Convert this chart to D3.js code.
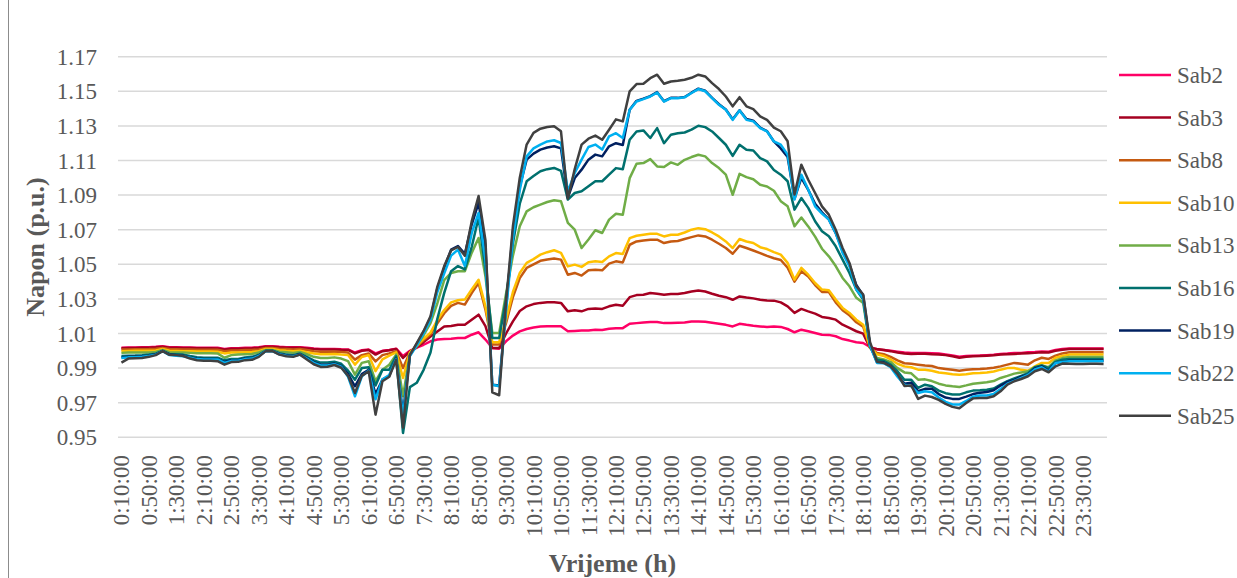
<!DOCTYPE html>
<html>
<head>
<meta charset="utf-8">
<script src="https://cdn.jsdelivr.net/npm/d3@7"></script>
<style>
  body { margin: 0; background: #fff; }
  text { font-family: "Liberation Serif", "Times New Roman", serif; fill: #595959; }
</style>
</head>
<body>
<svg id="chart" width="1237" height="578"></svg>
<script>
// time of day, every 10 minutes (category axis)
var times = [
  "0:10:00","0:20:00","0:30:00","0:40:00","0:50:00","1:00:00",
  "1:10:00","1:20:00","1:30:00","1:40:00","1:50:00","2:00:00",
  "2:10:00","2:20:00","2:30:00","2:40:00","2:50:00","3:00:00",
  "3:10:00","3:20:00","3:30:00","3:40:00","3:50:00","4:00:00",
  "4:10:00","4:20:00","4:30:00","4:40:00","4:50:00","5:00:00",
  "5:10:00","5:20:00","5:30:00","5:40:00","5:50:00","6:00:00",
  "6:10:00","6:20:00","6:30:00","6:40:00","6:50:00","7:00:00",
  "7:10:00","7:20:00","7:30:00","7:40:00","7:50:00","8:00:00",
  "8:10:00","8:20:00","8:30:00","8:40:00","8:50:00","9:00:00",
  "9:10:00","9:20:00","9:30:00","9:40:00","9:50:00","10:00:00",
  "10:10:00","10:20:00","10:30:00","10:40:00","10:50:00","11:00:00",
  "11:10:00","11:20:00","11:30:00","11:40:00","11:50:00","12:00:00",
  "12:10:00","12:20:00","12:30:00","12:40:00","12:50:00","13:00:00",
  "13:10:00","13:20:00","13:30:00","13:40:00","13:50:00","14:00:00",
  "14:10:00","14:20:00","14:30:00","14:40:00","14:50:00","15:00:00",
  "15:10:00","15:20:00","15:30:00","15:40:00","15:50:00","16:00:00",
  "16:10:00","16:20:00","16:30:00","16:40:00","16:50:00","17:00:00",
  "17:10:00","17:20:00","17:30:00","17:40:00","17:50:00","18:00:00",
  "18:10:00","18:20:00","18:30:00","18:40:00","18:50:00","19:00:00",
  "19:10:00","19:20:00","19:30:00","19:40:00","19:50:00","20:00:00",
  "20:10:00","20:20:00","20:30:00","20:40:00","20:50:00","21:00:00",
  "21:10:00","21:20:00","21:30:00","21:40:00","21:50:00","22:00:00",
  "22:10:00","22:20:00","22:30:00","22:40:00","22:50:00","23:00:00",
  "23:10:00","23:20:00","23:30:00","23:40:00","23:50:00","0:00:00"
];

var yTicks = [0.95, 0.97, 0.99, 1.01, 1.03, 1.05, 1.07, 1.09, 1.11, 1.13, 1.15, 1.17];

var seriesNames = ["Sab2", "Sab3", "Sab8", "Sab10", "Sab13", "Sab16", "Sab19", "Sab22", "Sab25"];
var seriesColors = ["#ff0066", "#a50021", "#c55a11", "#ffc000", "#70ad47", "#00706e", "#002060", "#00b0f0", "#404040"];

var sab2 = [
  1.0018,1.0019,1.0019,1.0020,1.0021,1.0023,1.0027,1.0021,1.0020,1.0019,1.0019,1.0018,
  1.0018,1.0018,1.0017,1.0011,1.0015,1.0015,1.0017,1.0018,1.0021,1.0027,1.0027,1.0023,
  1.0021,1.0020,1.0021,1.0017,1.0013,1.0010,1.0010,1.0011,1.0009,1.0008,0.9990,1.0003,
  1.0007,0.9985,1.0000,1.0005,1.0012,0.9970,1.0000,1.0018,1.0035,1.0055,1.0065,1.0068,
  1.0070,1.0074,1.0074,1.0093,1.0107,1.0065,1.0016,1.0012,1.0055,1.0088,1.0112,1.0126,
  1.0135,1.0140,1.0142,1.0142,1.0142,1.0113,1.0115,1.0117,1.0118,1.0122,1.0120,1.0128,
  1.0131,1.0131,1.0156,1.0160,1.0164,1.0166,1.0166,1.0160,1.0160,1.0162,1.0164,1.0170,
  1.0170,1.0168,1.0162,1.0156,1.0150,1.0141,1.0156,1.0150,1.0145,1.0141,1.0137,1.0140,
  1.0138,1.0126,1.0107,1.0122,1.0113,1.0103,1.0093,1.0092,1.0084,1.0068,1.0059,1.0049,
  1.0045,1.0022,1.0008,1.0004,1.0000,0.9995,0.9990,0.9987,0.9988,0.9988,0.9986,0.9984,
  0.9979,0.9973,0.9966,0.9970,0.9972,0.9973,0.9975,0.9977,0.9982,0.9984,0.9987,0.9988,
  0.9991,0.9993,0.9996,0.9995,1.0005,1.0010,1.0013,1.0013,1.0013,1.0013,1.0013,1.0013
];
var sab3 = [
  1.0015,1.0016,1.0016,1.0017,1.0018,1.0020,1.0024,1.0018,1.0017,1.0016,1.0016,1.0015,
  1.0015,1.0015,1.0014,1.0008,1.0012,1.0012,1.0014,1.0015,1.0018,1.0024,1.0024,1.0020,
  1.0018,1.0017,1.0018,1.0014,1.0010,1.0007,1.0007,1.0008,1.0006,1.0005,0.9985,1.0000,
  1.0005,0.9978,0.9998,1.0003,1.0011,0.9959,0.9995,1.0020,1.0050,1.0082,1.0111,1.0140,
  1.0143,1.0151,1.0151,1.0180,1.0209,1.0142,1.0016,1.0016,1.0100,1.0170,1.0230,1.0257,
  1.0270,1.0277,1.0280,1.0280,1.0277,1.0228,1.0234,1.0228,1.0242,1.0244,1.0242,1.0257,
  1.0266,1.0260,1.0310,1.0322,1.0324,1.0334,1.0330,1.0324,1.0328,1.0328,1.0334,1.0343,
  1.0349,1.0343,1.0330,1.0318,1.0310,1.0295,1.0314,1.0308,1.0303,1.0295,1.0291,1.0290,
  1.0280,1.0257,1.0219,1.0242,1.0228,1.0215,1.0196,1.0190,1.0180,1.0151,1.0132,1.0113,
  1.0099,1.0016,1.0010,1.0005,0.9998,0.9990,0.9985,0.9982,0.9983,0.9983,0.9980,0.9979,
  0.9975,0.9968,0.9960,0.9965,0.9968,0.9970,0.9972,0.9974,0.9978,0.9980,0.9982,0.9984,
  0.9986,0.9988,0.9992,0.9990,1.0000,1.0006,1.0010,1.0010,1.0010,1.0010,1.0010,1.0010
];
var sab8 = [
  1.0008,1.0008,1.0009,1.0009,1.0010,1.0012,1.0016,1.0010,1.0009,1.0008,1.0007,1.0006,
  1.0006,1.0006,1.0006,0.9998,1.0002,1.0002,1.0004,1.0005,1.0008,1.0016,1.0016,1.0012,
  1.0010,1.0008,1.0010,1.0004,0.9998,0.9995,0.9995,0.9996,0.9993,0.9990,0.9949,0.9975,
  0.9985,0.9939,0.9975,0.9985,0.9998,0.9900,0.9990,1.0025,1.0060,1.0095,1.0159,1.0217,
  1.0260,1.0277,1.0267,1.0334,1.0392,1.0238,1.0036,1.0036,1.0160,1.0310,1.0420,1.0479,
  1.0500,1.0520,1.0528,1.0533,1.0527,1.0440,1.0450,1.0435,1.0465,1.0469,1.0465,1.0504,
  1.0517,1.0511,1.0613,1.0632,1.0638,1.0642,1.0642,1.0623,1.0632,1.0635,1.0646,1.0657,
  1.0667,1.0661,1.0642,1.0619,1.0594,1.0561,1.0607,1.0594,1.0580,1.0565,1.0549,1.0535,
  1.0525,1.0480,1.0400,1.0460,1.0430,1.0380,1.0340,1.0340,1.0280,1.0235,1.0205,1.0165,
  1.0140,1.0018,0.9987,0.9980,0.9965,0.9945,0.9928,0.9925,0.9920,0.9915,0.9912,0.9900,
  0.9895,0.9890,0.9885,0.9890,0.9893,0.9895,0.9898,0.9902,0.9910,0.9920,0.9930,0.9925,
  0.9920,0.9945,0.9960,0.9953,0.9972,0.9985,0.9991,0.9991,0.9991,0.9991,0.9991,0.9991
];
var sab10 = [
  0.9998,0.9999,1.0000,1.0000,1.0000,1.0002,1.0010,1.0000,0.9999,0.9998,0.9997,0.9996,
  0.9996,0.9996,0.9995,0.9985,0.9990,0.9990,0.9992,0.9993,0.9998,1.0010,1.0010,1.0003,
  1.0000,0.9998,1.0000,0.9992,0.9985,0.9980,0.9980,0.9982,0.9978,0.9975,0.9920,0.9964,
  0.9975,0.9882,0.9950,0.9972,0.9991,0.9843,0.9990,1.0030,1.0070,1.0105,1.0178,1.0236,
  1.0280,1.0292,1.0296,1.0354,1.0411,1.0257,1.0049,1.0050,1.0180,1.0340,1.0450,1.0508,
  1.0530,1.0556,1.0570,1.0581,1.0566,1.0488,1.0498,1.0485,1.0512,1.0517,1.0513,1.0546,
  1.0565,1.0559,1.0651,1.0665,1.0671,1.0676,1.0676,1.0661,1.0671,1.0671,1.0684,1.0700,
  1.0709,1.0703,1.0684,1.0661,1.0632,1.0594,1.0646,1.0632,1.0623,1.0599,1.0588,1.0570,
  1.0556,1.0508,1.0411,1.0479,1.0440,1.0392,1.0354,1.0350,1.0296,1.0248,1.0219,1.0180,
  1.0151,1.0020,0.9980,0.9970,0.9950,0.9925,0.9910,0.9905,0.9891,0.9890,0.9885,0.9875,
  0.9870,0.9865,0.9862,0.9865,0.9870,0.9872,0.9875,0.9880,0.9891,0.9900,0.9901,0.9890,
  0.9885,0.9910,0.9930,0.9930,0.9960,0.9970,0.9978,0.9978,0.9978,0.9978,0.9978,0.9978
];
var sab13 = [
  0.9988,0.9990,0.9990,0.9990,0.9990,0.9993,1.0005,0.9992,0.9990,0.9990,0.9988,0.9986,
  0.9986,0.9986,0.9985,0.9960,0.9975,0.9978,0.9980,0.9982,0.9990,1.0005,1.0005,0.9995,
  0.9992,0.9988,0.9993,0.9980,0.9965,0.9958,0.9958,0.9962,0.9955,0.9940,0.9862,0.9930,
  0.9940,0.9824,0.9891,0.9920,0.9978,0.9737,0.9980,1.0030,1.0090,1.0160,1.0275,1.0409,
  1.0450,1.0460,1.0460,1.0566,1.0652,1.0431,1.0103,1.0103,1.0330,1.0550,1.0720,1.0806,
  1.0830,1.0845,1.0860,1.0870,1.0864,1.0739,1.0700,1.0594,1.0643,1.0697,1.0681,1.0758,
  1.0792,1.0786,1.0998,1.1081,1.1085,1.1108,1.1066,1.1062,1.1089,1.1075,1.1104,1.1120,
  1.1133,1.1124,1.1085,1.1056,1.1018,1.0902,1.1023,1.1004,1.0992,1.0960,1.0950,1.0925,
  1.0865,1.0835,1.0720,1.0770,1.0719,1.0660,1.0590,1.0546,1.0490,1.0421,1.0373,1.0306,
  1.0277,1.0020,0.9959,0.9950,0.9935,0.9900,0.9875,0.9870,0.9833,0.9835,0.9825,0.9810,
  0.9800,0.9795,0.9791,0.9800,0.9810,0.9814,0.9818,0.9825,0.9843,0.9855,0.9868,0.9875,
  0.9882,0.9905,0.9915,0.9905,0.9945,0.9958,0.9964,0.9964,0.9964,0.9964,0.9964,0.9964
];
var sab16 = [
  0.9970,0.9972,0.9973,0.9975,0.9978,0.9983,1.0000,0.9982,0.9980,0.9978,0.9970,0.9963,
  0.9960,0.9960,0.9960,0.9945,0.9953,0.9953,0.9962,0.9965,0.9977,1.0000,1.0000,0.9986,
  0.9978,0.9975,0.9984,0.9965,0.9945,0.9932,0.9932,0.9937,0.9925,0.9885,0.9833,0.9900,
  0.9905,0.9800,0.9891,0.9891,0.9968,0.9525,0.9790,0.9815,0.9890,0.9990,1.0185,1.0335,
  1.0460,1.0490,1.0470,1.0600,1.0770,1.0470,1.0074,1.0074,1.0300,1.0620,1.0850,1.0980,
  1.1010,1.1038,1.1050,1.1057,1.1040,1.0874,1.0912,1.0922,1.0951,1.0980,1.0980,1.1018,
  1.1056,1.1050,1.1220,1.1268,1.1274,1.1230,1.1287,1.1200,1.1249,1.1258,1.1262,1.1278,
  1.1301,1.1293,1.1268,1.1230,1.1191,1.1127,1.1191,1.1162,1.1158,1.1114,1.1095,1.1045,
  1.1018,1.0980,1.0816,1.0883,1.0826,1.0749,1.0691,1.0662,1.0604,1.0527,1.0450,1.0354,
  1.0296,1.0026,0.9949,0.9942,0.9920,0.9882,0.9833,0.9833,0.9785,0.9804,0.9795,0.9770,
  0.9755,0.9748,0.9747,0.9760,0.9770,0.9772,0.9775,0.9782,0.9804,0.9825,0.9840,0.9855,
  0.9870,0.9905,0.9915,0.9900,0.9935,0.9948,0.9953,0.9953,0.9953,0.9953,0.9953,0.9953
];
var sab19 = [
  0.9962,0.9965,0.9966,0.9968,0.9972,0.9980,0.9999,0.9978,0.9975,0.9972,0.9962,0.9955,
  0.9953,0.9953,0.9952,0.9935,0.9945,0.9945,0.9955,0.9958,0.9972,0.9999,0.9999,0.9982,
  0.9974,0.9970,0.9980,0.9958,0.9935,0.9920,0.9920,0.9926,0.9912,0.9865,0.9795,0.9865,
  0.9890,0.9750,0.9833,0.9855,0.9955,0.9641,0.9972,1.0040,1.0110,1.0190,1.0360,1.0480,
  1.0585,1.0605,1.0560,1.0730,1.0855,1.0604,0.9804,0.9800,1.0250,1.0690,1.0950,1.1105,
  1.1140,1.1163,1.1175,1.1182,1.1170,1.0885,1.0999,1.1047,1.1105,1.1134,1.1124,1.1182,
  1.1200,1.1190,1.1393,1.1445,1.1458,1.1472,1.1495,1.1443,1.1462,1.1462,1.1467,1.1492,
  1.1515,1.1503,1.1462,1.1425,1.1395,1.1338,1.1390,1.1340,1.1330,1.1290,1.1270,1.1210,
  1.1170,1.1120,1.0880,1.1000,1.0930,1.0850,1.0800,1.0760,1.0680,1.0580,1.0500,1.0380,
  1.0320,1.0030,0.9935,0.9932,0.9910,0.9858,0.9810,0.9815,0.9766,0.9780,0.9780,0.9750,
  0.9730,0.9722,0.9722,0.9735,0.9750,0.9758,0.9762,0.9772,0.9799,0.9820,0.9832,0.9850,
  0.9862,0.9898,0.9910,0.9885,0.9930,0.9936,0.9942,0.9942,0.9942,0.9942,0.9942,0.9942
];
var sab22 = [
  0.9958,0.9962,0.9963,0.9965,0.9970,0.9978,0.9998,0.9975,0.9972,0.9968,0.9960,0.9952,
  0.9950,0.9950,0.9950,0.9930,0.9942,0.9942,0.9952,0.9955,0.9970,0.9998,0.9998,0.9980,
  0.9972,0.9968,0.9978,0.9955,0.9930,0.9915,0.9915,0.9922,0.9908,0.9850,0.9737,0.9853,
  0.9885,0.9720,0.9835,0.9860,0.9952,0.9620,0.9970,1.0030,1.0100,1.0180,1.0340,1.0448,
  1.0550,1.0585,1.0490,1.0680,1.0797,1.0527,0.9804,0.9795,1.0230,1.0650,1.0930,1.1124,
  1.1170,1.1192,1.1210,1.1217,1.1201,1.0920,1.1028,1.1105,1.1178,1.1192,1.1163,1.1239,
  1.1258,1.1230,1.1393,1.1441,1.1455,1.1470,1.1493,1.1441,1.1460,1.1460,1.1465,1.1490,
  1.1513,1.1500,1.1460,1.1422,1.1393,1.1335,1.1389,1.1335,1.1326,1.1287,1.1268,1.1210,
  1.1192,1.1134,1.0874,1.1018,1.0932,1.0835,1.0793,1.0758,1.0681,1.0566,1.0488,1.0354,
  1.0305,1.0030,0.9930,0.9928,0.9905,0.9850,0.9804,0.9795,0.9756,0.9766,0.9760,0.9730,
  0.9705,0.9690,0.9689,0.9710,0.9735,0.9741,0.9742,0.9750,0.9779,0.9810,0.9826,0.9843,
  0.9860,0.9892,0.9905,0.9880,0.9930,0.9935,0.9939,0.9939,0.9939,0.9939,0.9939,0.9939
];
var sab25 = [
  0.9932,0.9955,0.9957,0.9958,0.9965,0.9975,0.9998,0.9977,0.9975,0.9970,0.9955,0.9945,
  0.9942,0.9942,0.9940,0.9920,0.9935,0.9936,0.9946,0.9948,0.9965,0.9998,0.9998,0.9978,
  0.9968,0.9965,0.9978,0.9950,0.9922,0.9907,0.9908,0.9918,0.9902,0.9855,0.9756,0.9855,
  0.9882,0.9631,0.9824,0.9850,0.9949,0.9556,0.9975,1.0045,1.0115,1.0200,1.0371,1.0490,
  1.0580,1.0600,1.0550,1.0748,1.0895,1.0640,0.9760,0.9743,1.0280,1.0720,1.1000,1.1192,
  1.1260,1.1284,1.1294,1.1298,1.1269,1.0880,1.1050,1.1192,1.1226,1.1244,1.1220,1.1278,
  1.1338,1.1326,1.1500,1.1542,1.1544,1.1576,1.1596,1.1544,1.1557,1.1561,1.1567,1.1578,
  1.1596,1.1586,1.1547,1.1513,1.1470,1.1413,1.1466,1.1413,1.1397,1.1355,1.1335,1.1290,
  1.1269,1.1211,1.0903,1.1076,1.0989,1.0912,1.0835,1.0787,1.0700,1.0594,1.0508,1.0373,
  1.0325,1.0050,0.9937,0.9930,0.9910,0.9865,0.9797,0.9800,0.9722,0.9741,0.9733,0.9716,
  0.9693,0.9676,0.9668,0.9698,0.9725,0.9727,0.9727,0.9737,0.9766,0.9804,0.9824,0.9837,
  0.9853,0.9882,0.9895,0.9876,0.9910,0.9926,0.9925,0.9924,0.9924,0.9925,0.9925,0.9924
];

var seriesValues = [sab2, sab3, sab8, sab10, sab13, sab16, sab19, sab22, sab25];

var svg = d3.select("#chart");
var W = 1237, H = 578;
var plot = { left: 118, right: 1107, top: 56.7, bottom: 437.3 };

svg.append("rect").attr("width", W).attr("height", H).attr("fill", "#fff");
// chart area border (only the left edge shows in the crop)
svg.append("line")
  .attr("x1", 8.5).attr("x2", 8.5).attr("y1", 0).attr("y2", H)
  .attr("stroke", "#8c8c8c").attr("stroke-width", 1);

var x = d3.scalePoint().domain(times).range([plot.left, plot.right]).padding(0.5);
var y = d3.scaleLinear().domain([0.95, 1.17]).range([plot.bottom, plot.top]);

// gridlines
svg.append("g").selectAll("line")
  .data(yTicks).enter().append("line")
    .attr("x1", plot.left).attr("x2", plot.right)
    .attr("y1", function(d) { return y(d); })
    .attr("y2", function(d) { return y(d); })
    .attr("stroke", "#d9d9d9").attr("stroke-width", 1.5);

// y tick labels
svg.append("g").selectAll("text")
  .data(yTicks).enter().append("text")
    .attr("x", 97)
    .attr("y", function(d) { return y(d); })
    .attr("dy", "0.35em")
    .attr("text-anchor", "end")
    .style("font-size", "23px")
    .text(d3.format(".2f"));

// x tick labels, every 4th category, rotated
var xLabels = times.filter(function(t, i) { return i % 4 === 0; });
svg.append("g").selectAll("text")
  .data(xLabels).enter().append("text")
    .attr("transform", function(d) { return "translate(" + x(d) + ",455) rotate(-90)"; })
    .attr("dy", "0.35em")
    .attr("text-anchor", "end")
    .style("font-size", "23px")
    .text(function(d) { return d; });

// series lines
var line = d3.line()
  .x(function(d, i) { return x(times[i]); })
  .y(function(d) { return y(d); });

svg.append("g").selectAll("path")
  .data(seriesValues).enter().append("path")
    .attr("d", line)
    .attr("fill", "none")
    .attr("stroke", function(d, i) { return seriesColors[i]; })
    .attr("stroke-width", 2.5)
    .attr("stroke-linejoin", "round");

// axis titles
svg.append("text")
  .attr("transform", "translate(35," + ((plot.top + plot.bottom) / 2) + ") rotate(-90)")
  .attr("dy", "0.35em")
  .attr("text-anchor", "middle")
  .style("font-size", "26px").style("font-weight", "bold")
  .text("Napon (p.u.)");

svg.append("text")
  .attr("x", (plot.left + plot.right) / 2)
  .attr("y", 563)
  .attr("dy", "0.35em")
  .attr("text-anchor", "middle")
  .style("font-size", "26px").style("font-weight", "bold")
  .text("Vrijeme (h)");

// legend
var legend = svg.append("g").selectAll("g")
  .data(seriesNames).enter().append("g")
    .attr("transform", function(d, i) { return "translate(1119," + (75 + i * 42.6) + ")"; });

legend.append("line")
  .attr("x1", 0).attr("x2", 52).attr("y1", 0).attr("y2", 0)
  .attr("stroke", function(d, i) { return seriesColors[i]; })
  .attr("stroke-width", 2.5);

legend.append("text")
  .attr("x", 58).attr("dy", "0.35em")
  .style("font-size", "23px")
  .text(function(d) { return d; });
</script>
</body>
</html>
